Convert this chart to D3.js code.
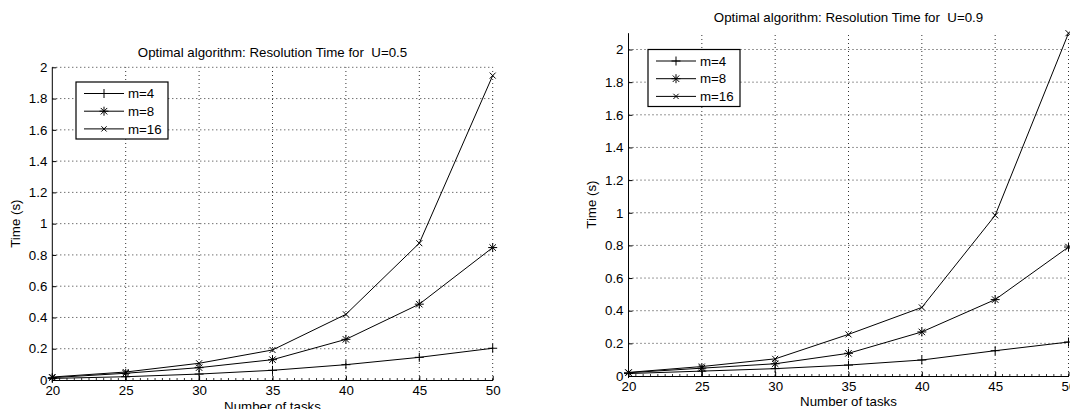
<!DOCTYPE html>
<html>
<head>
<meta charset="utf-8">
<script src="https://cdn.jsdelivr.net/npm/d3@7"></script>
<style>
  body { margin: 0; background: #fff; }
  text { font-family: "Liberation Sans", Arial, sans-serif; fill: #000; white-space: pre; }
</style>
</head>
<body>
<script>
// number of tasks (x values)
var tasks = [20, 25, 30, 35, 40, 45, 50];
var seriesNames = ["m=4", "m=8", "m=16"];
var markers = ["plus", "star", "cross"];

// U=0.5 times (s)
var u05_m4  = [0.010, 0.021, 0.038, 0.062, 0.098, 0.145, 0.203];
var u05_m8  = [0.015, 0.043, 0.079, 0.130, 0.260, 0.485, 0.847];
var u05_m16 = [0.019, 0.051, 0.107, 0.192, 0.420, 0.875, 1.947];

// U=0.9 times (s)
var u09_m4  = [0.015, 0.030, 0.045, 0.067, 0.098, 0.155, 0.208];
var u09_m8  = [0.020, 0.048, 0.075, 0.139, 0.270, 0.468, 0.790];
var u09_m16 = [0.022, 0.058, 0.105, 0.255, 0.420, 0.984, 2.100];

var xTicks = [20, 25, 30, 35, 40, 45, 50];
var yTicks = [0, 0.2, 0.4, 0.6, 0.8, 1, 1.2, 1.4, 1.6, 1.8, 2];

const fs = "13.3px";

const svg = d3.select("body").append("svg")
  .attr("width", 1070)
  .attr("height", 409);

function markerPath(type, s) {
  if (type == "plus") return "M" + (-s) + ",0H" + s + "M0," + (-s) + "V" + s;
  if (type == "cross") { var c = s * 0.75; return "M" + (-c) + "," + (-c) + "L" + c + "," + c + "M" + (-c) + "," + c + "L" + c + "," + (-c); }
  // star = plus and cross together
  var d = s * 0.72;
  return "M" + (-s) + ",0H" + s + "M0," + (-s) + "V" + s +
         "M" + (-d) + "," + (-d) + "L" + d + "," + d + "M" + (-d) + "," + d + "L" + d + "," + (-d);
}

function drawChart(opt) {
  const g = svg.append("g");
  const xScale = d3.scaleLinear().domain([20, 50]).range([opt.left, opt.right]);
  const yScale = d3.scaleLinear().domain([0, 2]).range([opt.bottom, opt.y2]);
  const yTop = yScale(opt.ymax);

  // dotted grid
  g.selectAll(".gx").data(xTicks.slice(1)).enter().append("line")
    .attr("x1", d => xScale(d)).attr("x2", d => xScale(d))
    .attr("y1", opt.bottom).attr("y2", yTop)
    .attr("stroke", "#333").attr("stroke-width", 1).attr("stroke-dasharray", "1,3");
  g.selectAll(".gy").data(yTicks.slice(1)).enter().append("line")
    .attr("x1", opt.left).attr("x2", opt.right)
    .attr("y1", d => yScale(d)).attr("y2", d => yScale(d))
    .attr("stroke", "#333").attr("stroke-width", 1).attr("stroke-dasharray", "1,3");

  // axes: ticks point into the plot
  const xAxis = d3.axisBottom(xScale).tickValues(xTicks).tickSizeInner(-4).tickSizeOuter(0);
  const yAxis = d3.axisLeft(yScale).tickValues(yTicks).tickSizeInner(-4).tickSizeOuter(0).tickPadding(5)
    .tickFormat(d => d3.format("~g")(d));

  const gx = g.append("g").attr("transform", "translate(0," + opt.bottom + ")").call(xAxis);
  const gy = g.append("g").attr("transform", "translate(" + opt.left + ",0)").call(yAxis);
  gy.select(".domain").attr("d", "M0," + opt.bottom + "V" + yTop);
  [gx, gy].forEach(function(a) {
    a.selectAll("text").style("font-size", fs).attr("fill", "#000");
    a.selectAll("line, path").attr("stroke", "#000");
  });
  gx.selectAll("text").attr("dy", "0.35em").attr("y", 10);

  // minor ticks on the x axis
  g.selectAll(".mx").data(d3.range(20, 50.01, 0.5)).enter().append("line")
    .attr("x1", d => xScale(d)).attr("x2", d => xScale(d))
    .attr("y1", opt.bottom).attr("y2", opt.bottom - 2)
    .attr("stroke", "#000").attr("stroke-width", 0.8);

  // series
  const line = d3.line().x((d, i) => xScale(tasks[i])).y(d => yScale(d));
  opt.series.forEach(function(vals, k) {
    g.append("path").datum(vals).attr("d", line)
      .attr("fill", "none").attr("stroke", "#000").attr("stroke-width", 1);
    g.selectAll(".mk" + k).data(vals).enter().append("path")
      .attr("transform", (d, i) => "translate(" + xScale(tasks[i]) + "," + yScale(d) + ")")
      .attr("d", markerPath(markers[k], k == 2 ? 4 : 4.5))
      .attr("fill", "none").attr("stroke", "#000").attr("stroke-width", 1);
  });

  // title and labels
  g.append("text").attr("x", (opt.left + opt.right) / 2).attr("y", opt.titleY)
    .attr("text-anchor", "middle").attr("dy", "0.35em").style("font-size", fs).text(opt.title);
  g.append("text").attr("x", (opt.left + opt.right) / 2).attr("y", opt.xlabY)
    .attr("text-anchor", "middle").attr("dy", "0.35em").style("font-size", fs).text("Number of tasks");
  g.append("text").attr("transform", "translate(" + (opt.left - 37) + "," + ((opt.bottom + yTop) / 2) + ") rotate(-90)")
    .attr("text-anchor", "middle").attr("dy", "0.35em").style("font-size", fs).text("Time (s)");

  // legend
  const lg = g.append("g").attr("transform", "translate(" + opt.legX + "," + opt.legY + ")");
  lg.append("rect").attr("x", 0).attr("y", 0).attr("width", 92).attr("height", 57)
    .attr("fill", "#fff").attr("stroke", "#000").attr("stroke-width", 1.2);
  seriesNames.forEach(function(name, k) {
    const yy = 11.5 + k * 17.7;
    lg.append("line").attr("x1", 8).attr("x2", 48).attr("y1", yy).attr("y2", yy)
      .attr("stroke", "#000").attr("stroke-width", 1);
    lg.append("path").attr("transform", "translate(28," + yy + ")")
      .attr("d", markerPath(markers[k], k == 2 ? 3.5 : 4.5))
      .attr("fill", "none").attr("stroke", "#000").attr("stroke-width", 1);
    lg.append("text").attr("x", 52).attr("y", yy).attr("dy", "0.35em")
      .style("font-size", fs).text(name);
  });
}

drawChart({
  left: 52.3, right: 492.7, bottom: 380, y2: 67.3, ymax: 2,
  title: "Optimal algorithm: Resolution Time for  U=0.5", titleY: 52,
  xlabY: 406, legX: 76, legY: 82,
  series: [u05_m4, u05_m8, u05_m16]
});

drawChart({
  left: 628.5, right: 1068.5, bottom: 376, y2: 49.5, ymax: 2.1,
  title: "Optimal algorithm: Resolution Time for  U=0.9", titleY: 17,
  xlabY: 401, legX: 648, legY: 49.5,
  series: [u09_m4, u09_m8, u09_m16]
});
</script>
</body>
</html>
